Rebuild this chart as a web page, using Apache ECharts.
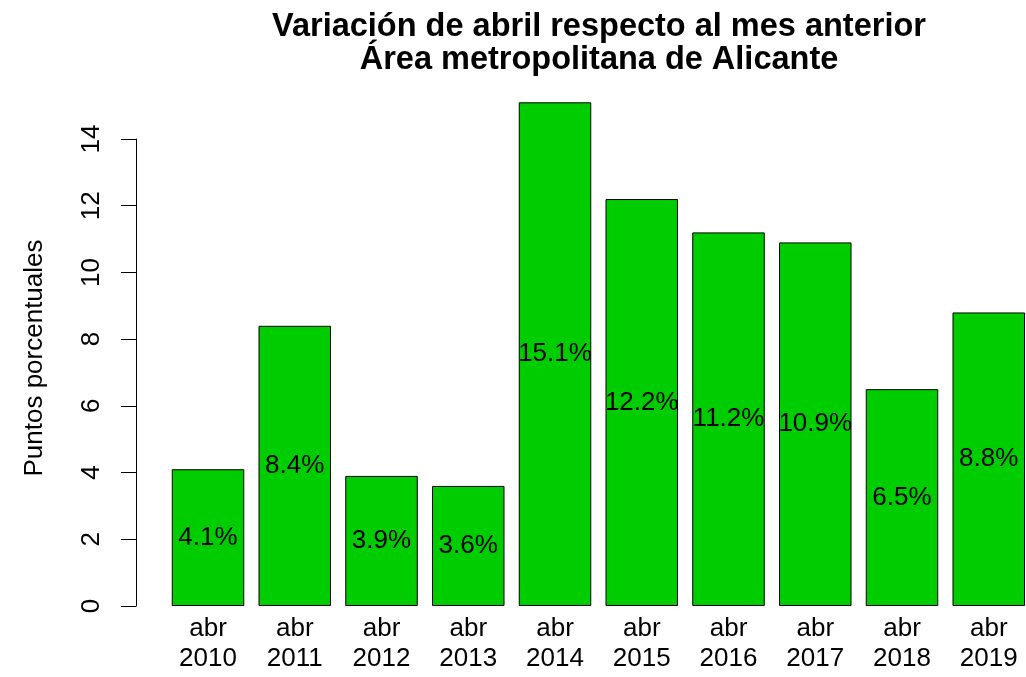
<!DOCTYPE html>
<html>
<head>
<meta charset="utf-8">
<script src="https://cdn.jsdelivr.net/npm/echarts@6/dist/echarts.min.js"></script>
<style>
  html, body { margin: 0; padding: 0; background: #fff; }
  #chart { width: 1026px; height: 677px; }
</style>
</head>
<body>
<div id="chart"></div>
<script>
// datos
var categorias = ['abr\n2010', 'abr\n2011', 'abr\n2012', 'abr\n2013', 'abr\n2014',
  'abr\n2015', 'abr\n2016', 'abr\n2017', 'abr\n2018', 'abr\n2019']
var variacion = [4.1, 8.4, 3.9, 3.6, 15.1, 12.2, 11.2, 10.9, 6.5, 8.8]
var ticksY = [0, 14, 2] // min, max, intervalo

var fuente = '"Liberation Sans", Arial, sans-serif'

// la última barra queda cortada por el borde derecho, como en el original
var paso = 86.75
var izq = 208
var maxX = (1026 - izq) / paso

var option = {
  animation: false,
  backgroundColor: '#fff',
  title: {
    text: 'Variación de abril respecto al mes anterior\nÁrea metropolitana de Alicante',
    left: 594,
    top: 6,
    textAlign: 'center',
    textStyle: {
      fontFamily: fuente,
      fontSize: 32.5,
      fontWeight: 'bold',
      color: '#000',
      lineHeight: 33
    }
  },
  grid: {
    left: izq,
    right: 0,
    top: 139,
    bottom: 71
  },
  xAxis: {
    type: 'value',
    min: 0,
    max: maxX,
    interval: 1,
    axisLine: { show: false },
    axisTick: { show: false },
    splitLine: { show: false },
    axisLabel: {
      fontFamily: fuente,
      fontSize: 26,
      lineHeight: 30,
      color: '#000',
      margin: 8,
      showMaxLabel: false,
      formatter: function (v) { return categorias[v] || '' }
    }
  },
  yAxis: {
    type: 'value',
    min: ticksY[0],
    max: ticksY[1],
    interval: ticksY[2],
    offset: izq - 136,
    splitLine: { show: false },
    axisLine: { show: true, onZero: false, lineStyle: { color: '#000', width: 1 } },
    axisTick: { show: true, length: 15, lineStyle: { color: '#000' } },
    axisLabel: {
      rotate: 90,
      fontFamily: fuente,
      fontSize: 26,
      color: '#000',
      margin: 31
    }
  },
  graphic: [
    {
      type: 'text',
      x: 35,
      y: 358,
      rotation: Math.PI / 2,
      style: {
        text: 'Puntos porcentuales',
        font: '26px ' + fuente,
        fill: '#000',
        textAlign: 'center',
        textVerticalAlign: 'middle'
      }
    }
  ],
  series: [
    {
      type: 'bar',
      data: variacion.map(function (v, i) { return [i, v] }),
      barWidth: 72.5,
      clip: false,
      itemStyle: {
        color: '#00CD00',
        borderColor: '#000',
        borderWidth: 1
      },
      label: {
        show: true,
        position: 'inside',
        formatter: function (p) { return p.value[1].toFixed(1) + '%' },
        fontFamily: fuente,
        fontSize: 26,
        color: '#000'
      }
    }
  ]
}

var myChart = echarts.init(document.getElementById('chart'))
myChart.setOption(option)
</script>
</body>
</html>
